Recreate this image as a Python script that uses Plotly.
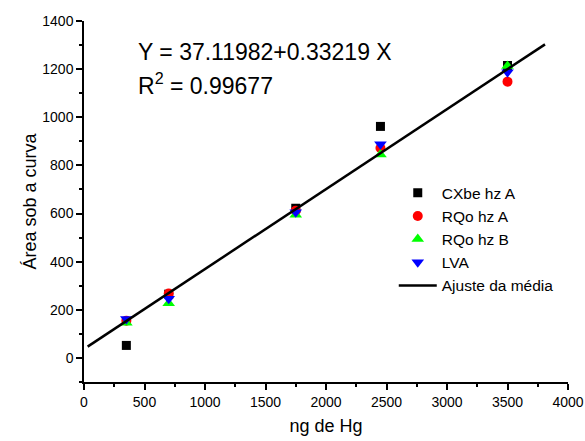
import plotly.graph_objects as go

x_ng = [350, 700, 1750, 2450, 3500]
cxbe_hz_a = [52, 265, 622, 962, 1215]
rqo_hz_a = [155, 268, 612, 872, 1148]
rqo_hz_b = [146, 227, 595, 845, 1213]
lva = [162, 246, 605, 888, 1187]
fit_x = [30, 3810]
fit_y = [47, 1303]

series = [
    ("CXbe hz A", cxbe_hz_a, "square", "#000000", 9),
    ("RQo hz A", rqo_hz_a, "circle", "#ff0000", 10),
    ("RQo hz B", rqo_hz_b, "triangle-up", "#00ff00", 11),
    ("LVA", lva, "triangle-down", "#0000ff", 11),
]

font_family = "Arial, Liberation Sans, sans-serif"
fig = go.Figure()
for name, ys, sym, col, sz in series:
    fig.add_trace(go.Scatter(x=x_ng, y=ys, mode="markers", name=name,
                             marker=dict(symbol=sym, color=col, size=sz, line=dict(width=0))))
fig.add_trace(go.Scatter(x=fit_x, y=fit_y, mode="lines", name="Ajuste da média",
                         line=dict(color="black", width=2.5)))

axis_common = dict(showline=True, linecolor="black", linewidth=1.5, ticks="outside",
                   ticklen=6, tickwidth=1.5, tickcolor="black", showgrid=False, zeroline=False,
                   automargin=False,
                   tickfont=dict(size=14, color="black", family=font_family),
                   title_font=dict(size=18, color="black", family=font_family))

fig.update_layout(
    width=585, height=441,
    margin=dict(l=84, r=17, t=21, b=59),
    paper_bgcolor="white", plot_bgcolor="white",
    font=dict(family=font_family, color="black"),
    xaxis=dict(range=[0, 4000], dtick=500, title=dict(text="ng de Hg", standoff=11),
               minor=dict(ticks="outside", dtick=250, ticklen=3, tickcolor="black", tickwidth=1.5),
               **axis_common),
    yaxis=dict(range=[-100, 1400], dtick=200, title=dict(text="Área sob a curva", standoff=1),
               minor=dict(ticks="outside", dtick=100, ticklen=3, tickcolor="black", tickwidth=1.5),
               **axis_common),
    legend=dict(x=0.64, y=0.57, xanchor="left", yanchor="top", bgcolor="rgba(0,0,0,0)",
                font=dict(size=15.5, color="black", family=font_family), tracegroupgap=0,
                itemwidth=38),
    showlegend=True,
    annotations=[
        dict(text="Y = 37.11982+0.33219 X", xref="paper", yref="paper", x=0.108, y=0.915,
             xanchor="left", yanchor="middle", showarrow=False,
             font=dict(size=23, color="black", family=font_family)),
        dict(text="R<sup>2</sup> = 0.99677", xref="paper", yref="paper", x=0.108, y=0.826,
             xanchor="left", yanchor="middle", showarrow=False,
             font=dict(size=23, color="black", family=font_family)),
    ],
)

fig.write_html("out.html", config={"displayModeBar": False},
               post_script="document.body.style.margin='0';document.body.style.overflow='hidden';")
